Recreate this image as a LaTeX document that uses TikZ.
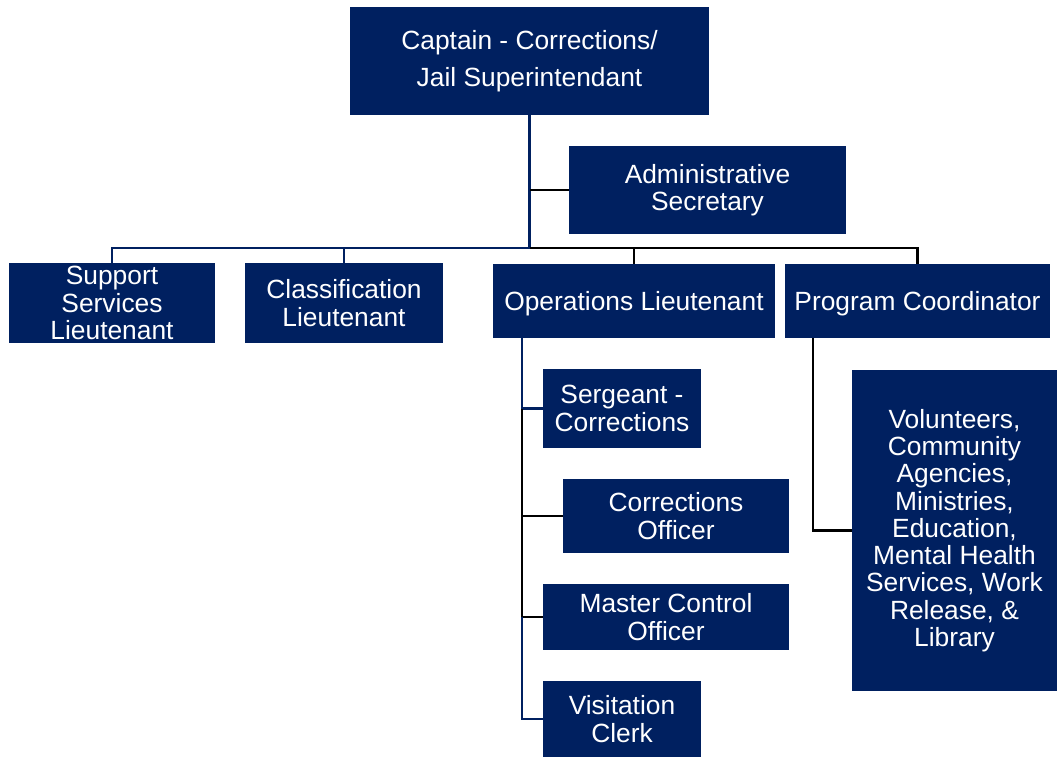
\documentclass[tikz,border=0pt]{standalone}
\usepackage{fontspec}
\setmainfont{Liberation Sans}
\definecolor{navy}{RGB}{0,32,96}

\begin{document}
\begin{tikzpicture}[x=0.02cm,y=-0.02cm,
        post/.style={fill=navy, text=white, inner sep=0pt, align=center,
            font=\fontsize{15}{15.5}\selectfont},
        link/.style={navy, line width=1.4pt},
        blink/.style={black, line width=1.4pt}]
        \useasboundingbox (0,0) rectangle (1058,757);

        % top of the chart
        \node[post, minimum width=7.18cm, minimum height=2.16cm,
            font=\fontsize{15}{21}\selectfont] (captain) at (529.5,61)
            {Captain - Corrections/\\Jail Superintendant};
        \node[post, minimum width=5.54cm, minimum height=1.76cm] (admin) at (707.5,190)
            {Administrative\\Secretary};

        % lieutenants and coordinator
        \node[post, minimum width=4.12cm, minimum height=1.6cm] (support) at (112,303)
            {Support\\Services\\Lieutenant};
        \node[post, minimum width=3.96cm, minimum height=1.6cm] (classif) at (344,303)
            {Classification\\Lieutenant};
        \node[post, minimum width=5.64cm, minimum height=1.48cm, text depth=0pt] (ops) at (634,301)
            {Operations Lieutenant};
        \node[post, minimum width=5.30cm, minimum height=1.48cm, text depth=0pt] (prog) at (917.5,301)
            {Program Coordinator};

        % under operations
        \node[post, minimum width=3.16cm, minimum height=1.58cm] (serg) at (622,408.5)
            {Sergeant -\\Corrections};
        \node[post, minimum width=4.52cm, minimum height=1.48cm] (coff) at (676,516)
            {Corrections\\Officer};
        \node[post, minimum width=4.92cm, minimum height=1.32cm] (master) at (666,617)
            {Master Control\\Officer};
        \node[post, minimum width=3.16cm, minimum height=1.52cm] (visit) at (622,719)
            {Visitation\\Clerk};

        % under program coordinator
        \node[post, minimum width=4.10cm, minimum height=6.42cm] (vol) at (954.5,530.5)
            {Volunteers,\\Community\\Agencies,\\Ministries,\\Education,\\Mental Health\\Services, Work\\Release, \&\\Library};

        % connectors
        \coordinate (bus) at (529.5,248);
        \coordinate (opsrail) at (522,338);
        \coordinate (prograil) at (813,338);

        \draw[link] (captain.south) -- (bus);
        \draw[blink] (admin.west) -- (admin.west -| bus);
        \draw[link] (support.north) -- (support.north |- bus) -- (bus);
        \draw[link] (classif.north) -- (classif.north |- bus);
        \draw[blink] (bus) -- (prog.north |- bus) -- (prog.north);
        \draw[blink] (ops.north) -- (ops.north |- bus);

        \draw[link] (opsrail) -- (serg.west -| opsrail) -- (serg.west);
        \draw[blink] (serg.west -| opsrail) -- (master.west -| opsrail);
        \draw[blink] (coff.west) -- (coff.west -| opsrail);
        \draw[blink] (master.west) -- (master.west -| opsrail);
        \draw[link] (master.west -| opsrail) -- (visit.west -| opsrail) -- (visit.west);

        \draw[blink] (prograil) -- (prograil |- vol.west) -- (vol.west);
    \end{tikzpicture}
\end{document}
